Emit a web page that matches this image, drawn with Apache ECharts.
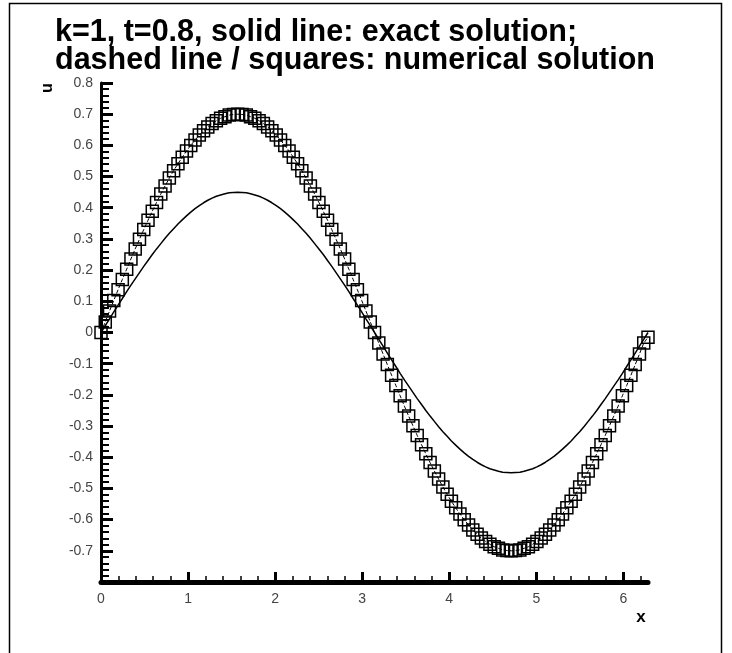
<!DOCTYPE html>
<html>
<head>
<meta charset="utf-8">
<script src="https://cdn.jsdelivr.net/npm/echarts@6/dist/echarts.min.js"></script>
<style>html,body{margin:0;padding:0;background:#fff;}#c{width:732px;height:653px;}</style>
</head>
<body>
<div id="c"></div>
<script>
var titleLines = ['k=1, t=0.8, solid line: exact solution;', 'dashed line / squares: numerical solution'];
var xName = 'x';
var yName = 'u';
var xMajorTicks = [0, 1, 2, 3, 4, 5, 6];
var xMinorTicks = [0.2,0.4,0.6,0.8,1.2,1.4,1.6,1.8,2.2,2.4,2.6,2.8,3.2,3.4,3.6,3.8,4.2,4.4,4.6,4.8,5.2,5.4,5.6,5.8,6.2];
var xs = [0,0.049,0.098,0.147,0.196,0.245,0.295,0.344,0.393,0.442,0.491,0.540,0.589,0.638,0.687,0.736,0.785,0.834,0.884,0.933,0.982,1.031,1.080,1.129,1.178,1.227,1.276,1.325,1.374,1.424,1.473,1.522,1.571,1.620,1.669,1.718,1.767,1.816,1.865,1.914,1.963,2.013,2.062,2.111,2.160,2.209,2.258,2.307,2.356,2.405,2.454,2.503,2.553,2.602,2.651,2.700,2.749,2.798,2.847,2.896,2.945,2.994,3.043,3.093,3.142,3.191,3.240,3.289,3.338,3.387,3.436,3.485,3.534,3.583,3.632,3.682,3.731,3.780,3.829,3.878,3.927,3.976,4.025,4.074,4.123,4.172,4.222,4.271,4.320,4.369,4.418,4.467,4.516,4.565,4.614,4.663,4.712,4.761,4.811,4.860,4.909,4.958,5.007,5.056,5.105,5.154,5.203,5.252,5.301,5.351,5.400,5.449,5.498,5.547,5.596,5.645,5.694,5.743,5.792,5.841,5.890,5.940,5.989,6.038,6.087,6.136,6.185,6.234,6.283];
var numerical = [0,0.034,0.069,0.103,0.137,0.170,0.203,0.236,0.268,0.299,0.330,0.360,0.389,0.417,0.444,0.470,0.495,0.519,0.541,0.562,0.582,0.600,0.617,0.633,0.647,0.659,0.670,0.679,0.687,0.692,0.697,0.699,0.700,
0.699,0.697,0.692,0.687,0.679,0.670,0.659,0.647,0.633,0.617,0.600,0.582,0.562,0.541,0.519,0.495,0.470,0.444,0.417,0.389,0.360,0.330,0.299,0.268,0.236,0.203,0.170,0.137,0.103,0.069,0.034,0,
-0.034,-0.069,-0.103,-0.137,-0.170,-0.203,-0.236,-0.268,-0.299,-0.330,-0.360,-0.389,-0.417,-0.444,-0.470,-0.495,-0.519,-0.541,-0.562,-0.582,-0.600,-0.617,-0.633,-0.647,-0.659,-0.670,-0.679,-0.687,-0.692,-0.697,-0.699,-0.700,
-0.699,-0.697,-0.692,-0.687,-0.679,-0.670,-0.659,-0.647,-0.633,-0.617,-0.600,-0.582,-0.562,-0.541,-0.519,-0.495,-0.470,-0.444,-0.417,-0.389,-0.360,-0.330,-0.299,-0.268,-0.236,-0.203,-0.170,-0.137,-0.103,-0.069,-0.034,-0.015];
var exact = [0,0.022,0.044,0.066,0.088,0.109,0.131,0.152,0.172,0.192,0.212,0.231,0.250,0.268,0.285,0.302,0.318,0.333,0.348,0.361,0.374,0.386,0.397,0.407,0.416,0.424,0.431,0.437,0.441,0.445,0.448,0.449,0.450,
0.449,0.448,0.445,0.441,0.437,0.431,0.424,0.416,0.407,0.397,0.386,0.374,0.361,0.348,0.333,0.318,0.302,0.285,0.268,0.250,0.231,0.212,0.192,0.172,0.152,0.131,0.109,0.088,0.066,0.044,0.022,0,
-0.022,-0.044,-0.066,-0.088,-0.109,-0.131,-0.152,-0.172,-0.192,-0.212,-0.231,-0.250,-0.268,-0.285,-0.302,-0.318,-0.333,-0.348,-0.361,-0.374,-0.386,-0.397,-0.407,-0.416,-0.424,-0.431,-0.437,-0.441,-0.445,-0.448,-0.449,-0.450,
-0.449,-0.448,-0.445,-0.441,-0.437,-0.431,-0.424,-0.416,-0.407,-0.397,-0.386,-0.374,-0.361,-0.348,-0.333,-0.318,-0.302,-0.285,-0.268,-0.250,-0.231,-0.212,-0.192,-0.172,-0.152,-0.131,-0.109,-0.088,-0.066,-0.044,-0.022,0];

var chart = echarts.init(document.getElementById('c'), null, {renderer: 'canvas'});
var FONT = 'Liberation Sans';
var xMax = xs[xs.length - 1];
var option = {
  backgroundColor: '#fff',
  animation: false,
  grid: {left: 101, right: 84, top: 83, bottom: 71, containLabel: false},
  xAxis: [{
    type: 'value', min: 0, max: xMax, interval: 1, position: 'bottom',
    axisLine: {show: true, onZero: false, lineStyle: {color: '#000', width: 5}},
    axisTick: {show: true, inside: true, length: 10, customValues: xMajorTicks, lineStyle: {color: '#000', width: 3}},
    minorTick: {show: false},
    splitLine: {show: false},
    axisLabel: {show: true, customValues: xMajorTicks, margin: 10, color: '#444', fontFamily: FONT, fontSize: 14,
      formatter: function (v) { return String(Math.round(v)); }}
  }, {
    type: 'value', min: 0, max: xMax, position: 'bottom', offset: 0,
    axisLine: {show: false, onZero: false},
    axisTick: {show: true, inside: true, length: 6, customValues: xMinorTicks, lineStyle: {color: '#000', width: 1.5}},
    axisLabel: {show: false},
    splitLine: {show: false}
  }],
  yAxis: {
    type: 'value', min: -0.8, max: 0.8, interval: 0.1,
    axisLine: {show: true, onZero: false, lineStyle: {color: '#000', width: 3}},
    axisTick: {show: true, inside: true, length: 12, lineStyle: {color: '#000', width: 3}},
    minorTick: {show: true, splitNumber: 5, length: 8, lineStyle: {color: '#000', width: 2}},
    splitLine: {show: false},
    axisLabel: {margin: 8, color: '#444', fontFamily: FONT, fontSize: 14,
      formatter: function (v) {
        if (Math.abs(v + 0.8) < 1e-6) return '';
        var r = Math.round(v * 10) / 10;
        return String(r);
      }}
  },
  series: [{
    name: 'exact', type: 'line', xAxisIndex: 0, showSymbol: false, symbol: 'none',
    data: xs.map(function (x, i) { return [x, exact[i]]; }),
    lineStyle: {color: '#000', width: 1.5}, z: 2
  }, {
    name: 'numerical', type: 'line', xAxisIndex: 0, symbol: 'rect', symbolSize: 12, showAllSymbol: true,
    data: xs.map(function (x, i) { return [x, numerical[i]]; }),
    lineStyle: {color: '#000', width: 1, type: 'dashed'},
    itemStyle: {color: 'rgba(0,0,0,0)', borderColor: '#000', borderWidth: 1.5}, z: 3
  }],
  graphic: [
    {type: 'rect', shape: {x: 9.5, y: 3.5, width: 712, height: 700}, style: {fill: 'none', stroke: '#000', lineWidth: 1.5}, silent: true},
    {type: 'text', left: 55, top: 17, style: {text: titleLines.join('\n'), font: 'bold 30.5px "Liberation Sans"', fill: '#000', lineHeight: 28}},
    {type: 'text', x: 48, y: 88, rotation: Math.PI / 2, style: {text: yName, font: 'bold 16px "Liberation Sans"', fill: '#000', align: 'center', verticalAlign: 'middle'}},
    {type: 'text', x: 641, y: 617, style: {text: xName, font: 'bold 17px "Liberation Sans"', fill: '#000', align: 'center', verticalAlign: 'middle'}}
  ]
};
chart.setOption(option);
</script>
</body>
</html>
